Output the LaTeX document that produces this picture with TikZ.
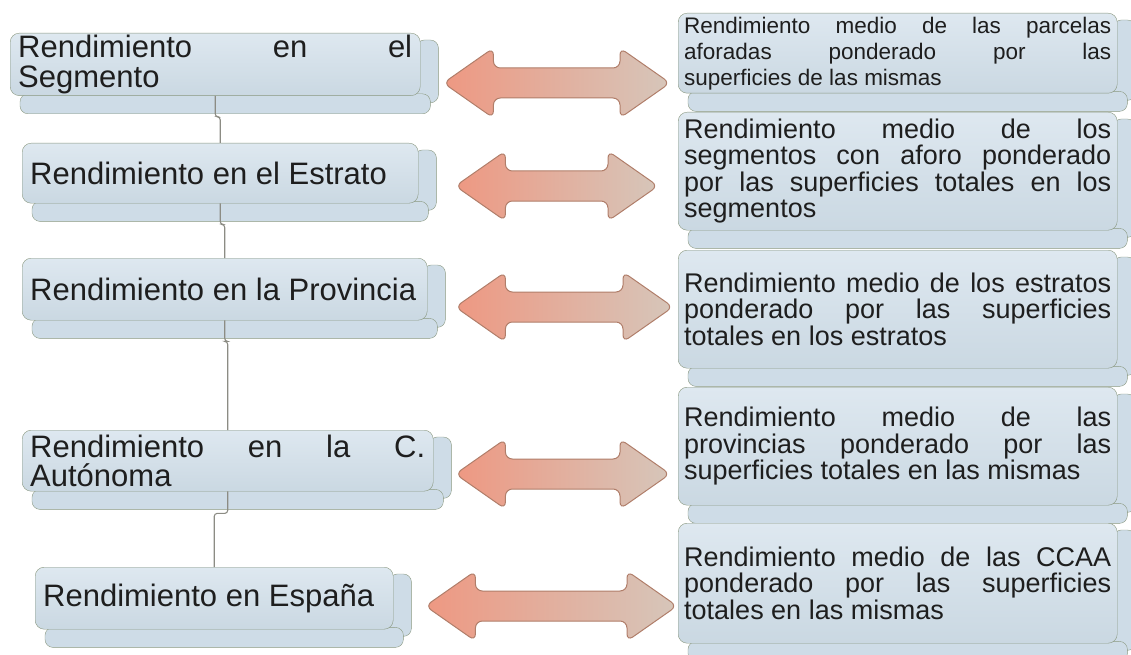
\documentclass[tikz,border=0pt]{standalone}
\usepackage{fontspec}
\setmainfont{Liberation Sans}
\usetikzlibrary{calc,backgrounds}
\definecolor{cajaarriba}{RGB}{222,232,240}
\definecolor{cajaabajo}{RGB}{202,216,226}
\definecolor{borde}{RGB}{138,152,128}
\definecolor{relleno}{RGB}{206,220,231}
\definecolor{flechaizq}{RGB}{238,152,130}
\definecolor{flechader}{RGB}{214,198,186}
\definecolor{bordeflecha}{RGB}{176,126,106}
\definecolor{linea}{RGB}{140,140,132}
\definecolor{texto}{RGB}{30,30,30}
\hyphenpenalty=10000 \exhyphenpenalty=10000
\tolerance=10000 \hbadness=10000
\tikzstyle{nivel} = [rectangle, rounded corners=9pt, draw=borde, top color=cajaarriba, bottom color=cajaabajo, text=texto, anchor=north west, inner xsep=8pt, inner ysep=2pt, align=justify, font=\fontsize{31}{29.5}\selectfont]
\tikzstyle{calculo} = [nivel, inner xsep=6pt, text width=427pt, minimum height=118pt, font=\fontsize{27}{26.5}\selectfont]
\tikzstyle{losa} = [rounded corners=8pt, draw=borde, fill=relleno]
\tikzstyle{enlace} = [draw=linea, line width=1.1pt, rounded corners=3pt]
\tikzstyle{doble} = [draw=bordeflecha, line width=1pt, rounded corners=7pt, left color=flechaizq, right color=flechader]
% double block arrow between two points, at height #3
\newcommand{\flechadoble}[3]{%
  \path[doble] let \p1=(#1), \p2=(#2), \p3=(0,#3) in
    (\x1,\y3) -- ({\x1+50pt},{\y3+35pt}) -- ({\x1+50pt},{\y3+15pt})
    -- ({\x2-50pt},{\y3+15pt}) -- ({\x2-50pt},{\y3+35pt}) -- (\x2,\y3)
    -- ({\x2-50pt},{\y3-35pt}) -- ({\x2-50pt},{\y3-15pt})
    -- ({\x1+50pt},{\y3-15pt}) -- ({\x1+50pt},{\y3-35pt}) -- cycle;}

\begin{document}
\begin{tikzpicture}[x=1pt, y=-1pt]
\clip (0,0) rectangle (1131,655);

% niveles
\node (seg) [nivel, text width=394pt, minimum height=61pt] at (10,33)
   {Rendimiento en el \linebreak Segmento};
\node (estr) [nivel, text width=380pt, minimum height=60pt] at (22,143)
   {Rendimiento en el Estrato};
\node (prov) [nivel, text width=389pt, minimum height=62pt] at (22,258)
   {Rendimiento en la Provincia};
\node (auto) [nivel, text width=395pt, minimum height=61pt] at (22,430)
   {Rendimiento en la C. \linebreak Autónoma};
\node (esp) [nivel, text width=342pt, minimum height=62pt] at (35,567)
   {Rendimiento en España};

% calculos
\node (med1) [calculo, minimum height=80pt, font=\fontsize{22.5}{26}\selectfont] at (678,13)
   {Rendimiento medio de las parcelas \linebreak aforadas ponderado por las \linebreak superficies de las mismas};
\node (med2) [calculo] at (678,112)
   {Rendimiento medio de los \linebreak segmentos con aforo ponderado \linebreak por las superficies totales en los \linebreak segmentos};
\node (med3) [calculo] at (678,250)
   {Rendimiento medio de los estratos \linebreak ponderado por las superficies \linebreak totales en los estratos};
\node (med4) [calculo] at (678,387)
   {Rendimiento medio de las \linebreak provincias ponderado por las \linebreak superficies totales en las mismas};
\node (med5) [calculo, minimum height=120pt] at (678,523)
   {Rendimiento medio de las CCAA \linebreak ponderado por las superficies \linebreak totales en las mismas};

\begin{pgfonlayer}{background}
\foreach \n in {seg,estr,prov,auto,esp,med1,med2,med3,med4,med5} {
  \draw[losa] ([xshift=-4pt,yshift=-7pt]\n.north east) rectangle ([xshift=18pt,yshift=-7pt]\n.south east);
  \draw[losa] ([xshift=10pt,yshift=2pt]\n.south west) rectangle ([xshift=10pt,yshift=-18pt]\n.south east);
}
\end{pgfonlayer}

\draw[enlace] (seg.south) -- ++(0,21) -| (estr.north);
\draw[enlace] (estr.south) -- ++(0,21) -| (prov.north);
\draw[enlace] (prov.south) -- ++(0,21) -| (auto.north);
\draw[enlace] (auto.south) -- ++(0,22) -| (esp.north);

\flechadoble{[xshift=23pt]seg.east}{[xshift=-8pt]med1.west}{83}
\flechadoble{[xshift=37pt]estr.east}{[xshift=-20pt]med2.west}{186}
\flechadoble{[xshift=28pt]prov.east}{[xshift=-5pt]med3.west}{307}
\flechadoble{[xshift=22pt]auto.east}{[xshift=-8pt]med4.west}{474}
\flechadoble{[xshift=32pt]esp.east}{[xshift=-1pt]med5.west}{606}

\end{tikzpicture}
\end{document}
